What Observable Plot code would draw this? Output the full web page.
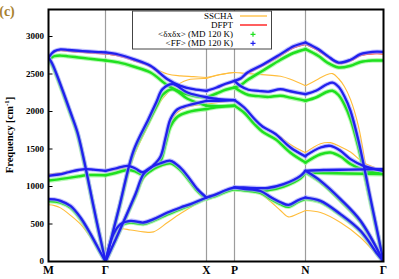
<!DOCTYPE html>
<html><head><meta charset="utf-8">
<script src="https://cdn.jsdelivr.net/npm/d3@7"></script>
<script src="https://cdn.jsdelivr.net/npm/@observablehq/plot@0.6"></script>
<style>
body{margin:0;background:#fff;}
#chart{position:relative;width:399px;height:279px;}
</style></head><body><div id="chart"></div>
<script>
// k-path positions and labels
const kTicks = [0, 57, 158, 186, 257, 335];
const kLabels = ["M", "Γ", "X", "P", "N", "Γ"];
const yTicks = [0, 500, 1000, 1500, 2000, 2500, 3000];
const seriesNames = ["SSCHA", "DFPT", "<δxδx> (MD 120 K)", "<FF> (MD 120 K)"];

// Bands: k = path coordinate; ff = <FF>, dx = <δxδx>, dfpt = DFPT, sscha = SSCHA
const mgTop = {k:[0,3,6,12,20,30,40,50,57],
  ff:[2720,2770,2805,2828,2820,2810,2800,2792,2788],
  dfpt:[2720,2765,2795,2815,2805,2795,2785,2775,2770],
  dx:[2700,2720,2738,2745,2735,2720,2705,2690,2680],
  sscha:[2720,2765,2795,2812,2800,2790,2780,2772,2768]};
const mgSteep = {k:[0,4,8,15,22,29,36,44,50,57],
  ff:[2720,2630,2500,2250,1990,1720,1320,800,420,0],
  dfpt:[2720,2630,2500,2250,1990,1720,1320,800,420,0],
  dx:[2700,2610,2480,2230,1970,1700,1300,790,410,0],
  sscha:[2720,2630,2500,2250,1990,1720,1320,800,420,0]};
const mgMid = {k:[0,10,20,30,37,45,57],
  ff:[1143,1160,1190,1220,1232,1225,1209],
  dfpt:[1145,1160,1190,1218,1228,1222,1206],
  dx:[1080,1095,1115,1135,1150,1152,1150],
  sscha:[1165,1180,1205,1225,1230,1220,1200]};
const mgLow = {k:[0,6,12,22,32,42,52,57],
  ff:[832,828,809,742,587,369,120,0],
  dfpt:[832,828,809,742,587,369,120,0],
  dx:[805,800,785,720,570,355,115,0],
  sscha:[756,745,715,615,498,320,110,0]};
const gxTop = {k:[57,70,85,102,119,132,145,158],
  ff:[2788,2760,2698,2609,2431,2342,2298,2276],
  dfpt:[2770,2742,2680,2595,2425,2340,2295,2276],
  dx:[2680,2655,2600,2520,2350,2260,2210,2187],
  sscha:[2768,2745,2700,2600,2500,2475,2465,2453]};
const gxE = {k:[57,71,85,100,108,114,124,139,158],
  ff:[0,740,1476,1900,2130,2298,2365,2253,2190],
  dfpt:[0,740,1476,1900,2130,2298,2365,2253,2190],
  dx:[0,730,1450,1860,2070,2220,2298,2170,2076],
  sscha:[0,700,1390,1820,2040,2170,2310,2420,2440]};
const gxG = {k:[57,67,77,87,95,104,112,117,122,129,139,158],
  ff:[0,290,590,900,1165,1270,1400,1650,1900,2030,2080,2143],
  dfpt:[0,290,590,900,1165,1270,1400,1650,1900,2030,2080,2143],
  dx:[0,285,580,880,1130,1230,1340,1570,1800,1930,1990,2032],
  sscha:[0,280,560,850,1100,1230,1380,1620,1850,1990,2060,2098]};
const gxMid = {k:[57,67,79,87,94,102,112,122,132,139,149,158],
  ff:[1209,1240,1276,1240,1190,1253,1310,1343,1250,1142,965,853],
  dfpt:[1209,1240,1276,1240,1190,1253,1310,1343,1250,1142,965,853],
  dx:[1150,1180,1220,1200,1160,1215,1280,1310,1220,1110,940,835],
  sscha:[1200,1225,1240,1200,1160,1200,1265,1300,1225,1120,950,860]};
const gxLow = {k:[57,65,72,82,95,105,119,132,142,158],
  ff:[0,365,498,542,520,565,653,720,765,853],
  dfpt:[0,365,498,542,520,565,653,720,765,853],
  dx:[0,350,480,520,500,545,630,700,750,845],
  sscha:[0,330,432,420,395,395,520,640,720,853]};
const xpUp = {k:[158,168,177,186],
  ff:[2276,2320,2370,2409],
  dfpt:[2276,2315,2360,2400],
  dx:[2187,2240,2290,2320],
  sscha:[2453,2480,2505,2520]};
const xpMid = {k:[158,170,186],
  ff:[2143,2143,2152], dfpt:[2143,2143,2152],
  dx:[2032,2060,2076], sscha:[2098,2120,2140]};
const xpMid2 = {k:[158,170,186],
  ff:[2190,2165,2152], dfpt:[2190,2165,2152],
  dx:[2076,2070,2076], sscha:[2440,2490,2520]};
const xpLow = {k:[158,168,177,186],
  ff:[853,898,950,987], dfpt:[853,898,950,987],
  dx:[840,880,930,965], sscha:[870,905,950,975]};
const pnL1 = {k:[186,192,199,215,232,245,257],
  ff:[2409,2440,2520,2631,2765,2870,2920],
  dfpt:[2400,2430,2505,2615,2745,2850,2898],
  dx:[2320,2350,2420,2550,2690,2780,2831],
  sscha:[2400,2430,2505,2615,2745,2850,2898]};
const pnL3 = {k:[186,192,200,210,220,232,242,257],
  ff:[2409,2340,2290,2275,2265,2298,2270,2231],
  dfpt:[2400,2335,2285,2270,2260,2290,2262,2225],
  dx:[2320,2270,2220,2205,2195,2210,2185,2143],
  sscha:[2520,2515,2505,2495,2485,2470,2430,2342]};
const pnL2 = {k:[186,196,206,214,227,242,257],
  ff:[2152,2050,1900,1800,1700,1520,1400],
  dfpt:[2152,2050,1900,1800,1700,1520,1400],
  dx:[2076,1980,1830,1730,1630,1450,1320],
  sscha:[2140,2030,1890,1800,1710,1560,1450]};
const pnC = {k:[186,195,219,235,252,257],
  ff:[987,987,980,1031,1142,1209], dfpt:[987,987,980,1031,1142,1209],
  dx:[965,960,950,1000,1110,1190], sscha:[975,965,940,990,1110,1200]};
const pnLow = {k:[186,195,212,222,232,240,250,257],
  ff:[987,970,940,860,790,755,820,853],
  dfpt:[987,970,940,860,790,755,820,853],
  dx:[965,950,915,835,765,730,800,835],
  sscha:[975,955,900,800,680,595,640,680]};
const ngTop = {k:[257,270,279,290,302,312,324,335],
  ff:[2920,2830,2742,2653,2690,2765,2795,2795],
  dfpt:[2898,2810,2725,2640,2675,2745,2770,2770],
  dx:[2831,2740,2650,2587,2610,2660,2680,2680],
  sscha:[2898,2810,2728,2645,2680,2750,2772,2768]};
const ngL3 = {k:[257,268,278,284,290,296,302,310,322,335],
  ff:[2231,2280,2360,2385,2330,2200,2009,1609,840,0],
  dfpt:[2231,2280,2360,2385,2330,2200,2009,1609,840,0],
  dx:[2143,2190,2260,2276,2220,2090,1900,1520,800,0],
  sscha:[2342,2420,2490,2505,2440,2330,2160,1800,900,0]};
const ngL2 = {k:[257,272,282,292,302,315,335],
  ff:[1409,1520,1542,1476,1365,1276,1209],
  dfpt:[1409,1520,1542,1476,1365,1276,1209],
  dx:[1320,1430,1453,1400,1300,1220,1165],
  sscha:[1453,1570,1585,1530,1460,1320,1209]};
const ngFlat = {k:[257,275,300,335],
  ff:[1209,1220,1225,1232], dfpt:[1209,1220,1225,1232],
  dx:[1190,1180,1172,1165], sscha:[1200,1210,1215,1220]};
const ngDown = {k:[257,272,292,312,335],
  ff:[1209,1076,832,543,0], dfpt:[1209,1076,832,543,0],
  dx:[1190,1060,815,530,0], sscha:[1200,1050,800,515,0]};
const ngLow = {k:[257,272,292,312,329,335],
  ff:[853,809,632,409,98,0], dfpt:[853,809,632,409,98,0],
  dx:[835,795,620,400,95,0], sscha:[680,653,520,320,80,0]};

const bandList = [mgTop, mgSteep, mgMid, mgLow, gxTop, gxE, gxG, gxMid, gxLow,
  xpUp, xpMid, xpMid2, xpLow, pnL1, pnL3, pnL2, pnC, pnLow,
  ngTop, ngL3, ngL2, ngFlat, ngDown, ngLow];

function rowsFor(key) {
  return bandList.flatMap((b, bi) => b.k.map((k, i) => ({k, v: b[key][i], band: bi})));
}
const lineOpts = {x: "k", y: "v", z: "band", curve: "catmull-rom", clip: true,
  strokeLinecap: "round", strokeLinejoin: "round"};

const svg = Plot.plot({
  width: 399, height: 279,
  marginLeft: 48, marginRight: 16, marginTop: 9, marginBottom: 18,
  x: {domain: [0, 335]},
  y: {domain: [0, 3360]},
  style: {fontFamily: "'Liberation Serif', serif", background: "white", color: "black"},
  marks: [
    Plot.ruleX(kTicks.slice(1, -1), {stroke: "#9c9c9c", strokeWidth: 1.2}),
    Plot.line(rowsFor("sscha"), {...lineOpts, stroke: "#ffbd3c", strokeWidth: 1.1}),
    Plot.line(rowsFor("dfpt"), {...lineOpts, stroke: "#ff2a2a", strokeWidth: 1.5}),
    Plot.line(rowsFor("dx"), {...lineOpts, stroke: "#9ff59a", strokeWidth: 4.6, strokeOpacity: 0.75}),
    Plot.line(rowsFor("dx"), {...lineOpts, stroke: "#1fe01f", strokeWidth: 2.5}),
    Plot.line(rowsFor("ff"), {...lineOpts, stroke: "#a4a4ff", strokeWidth: 4.4, strokeOpacity: 0.7}),
    Plot.line(rowsFor("ff"), {...lineOpts, stroke: "#2020ee", strokeWidth: 2.3}),
    Plot.link(yTicks, {x1: 0, x2: 4, y1: d => d, y2: d => d, stroke: "black", strokeWidth: 1}),
    Plot.axisY({ticks: yTicks, tickSize: 0, tickPadding: 4.5, fontSize: 9, fontWeight: "bold", label: null,
      tickFormat: d => String(d)}),
    Plot.axisX({ticks: kTicks, tickSize: 0, tickPadding: 4, fontSize: 11.5, fontWeight: "bold", label: null,
      tickFormat: d => kLabels[kTicks.indexOf(d)]}),
    Plot.frame({stroke: "black", strokeWidth: 2})
  ]
});
document.getElementById("chart").appendChild(svg);

const s = d3.select(svg);
// panel label
s.append("text").attr("x", 7).attr("y", 16).attr("font-size", 14).attr("font-weight", "bold")
  .attr("fill", "#a8822e").attr("font-family", "'Liberation Serif', serif").text("(c)");
// y label
const yl = s.append("text").attr("transform", "translate(13,135) rotate(-90)")
  .attr("text-anchor", "middle").attr("font-size", 10.5).attr("font-weight", "bold")
  .attr("font-family", "'Liberation Serif', serif").attr("fill", "black");
yl.append("tspan").text("Frequency [cm");
yl.append("tspan").attr("font-size", 7).attr("dy", -4).text("-1");
yl.append("tspan").attr("dy", 4).text("]");
// legend
const lg = s.append("g").attr("font-family", "'Liberation Serif', serif").attr("font-size", 9);
lg.append("rect").attr("x", 132.5).attr("y", 11).attr("width", 139).attr("height", 38)
  .attr("fill", "white").attr("stroke", "#444").attr("stroke-width", 1);
const rowY = [16, 25, 34.3, 43.3];
seriesNames.forEach((name, i) => {
  lg.append("text").attr("x", 233).attr("y", rowY[i]).attr("dy", "0.33em")
    .attr("text-anchor", "end").attr("fill", "black").text(name);
});
lg.append("line").attr("x1", 240).attr("x2", 267).attr("y1", rowY[0]).attr("y2", rowY[0])
  .attr("stroke", "#ffbd3c").attr("stroke-width", 1.3);
lg.append("line").attr("x1", 240).attr("x2", 267).attr("y1", rowY[1]).attr("y2", rowY[1])
  .attr("stroke", "#ff2a2a").attr("stroke-width", 1.5);
[["#1fe01f", rowY[2]], ["#2020ee", rowY[3]]].forEach(([c, y]) => {
  lg.append("path").attr("d", `M${250.5},${y}h5M${253},${y - 2.5}v5`).attr("stroke", c).attr("stroke-width", 1.2);
});
</script></body></html>
